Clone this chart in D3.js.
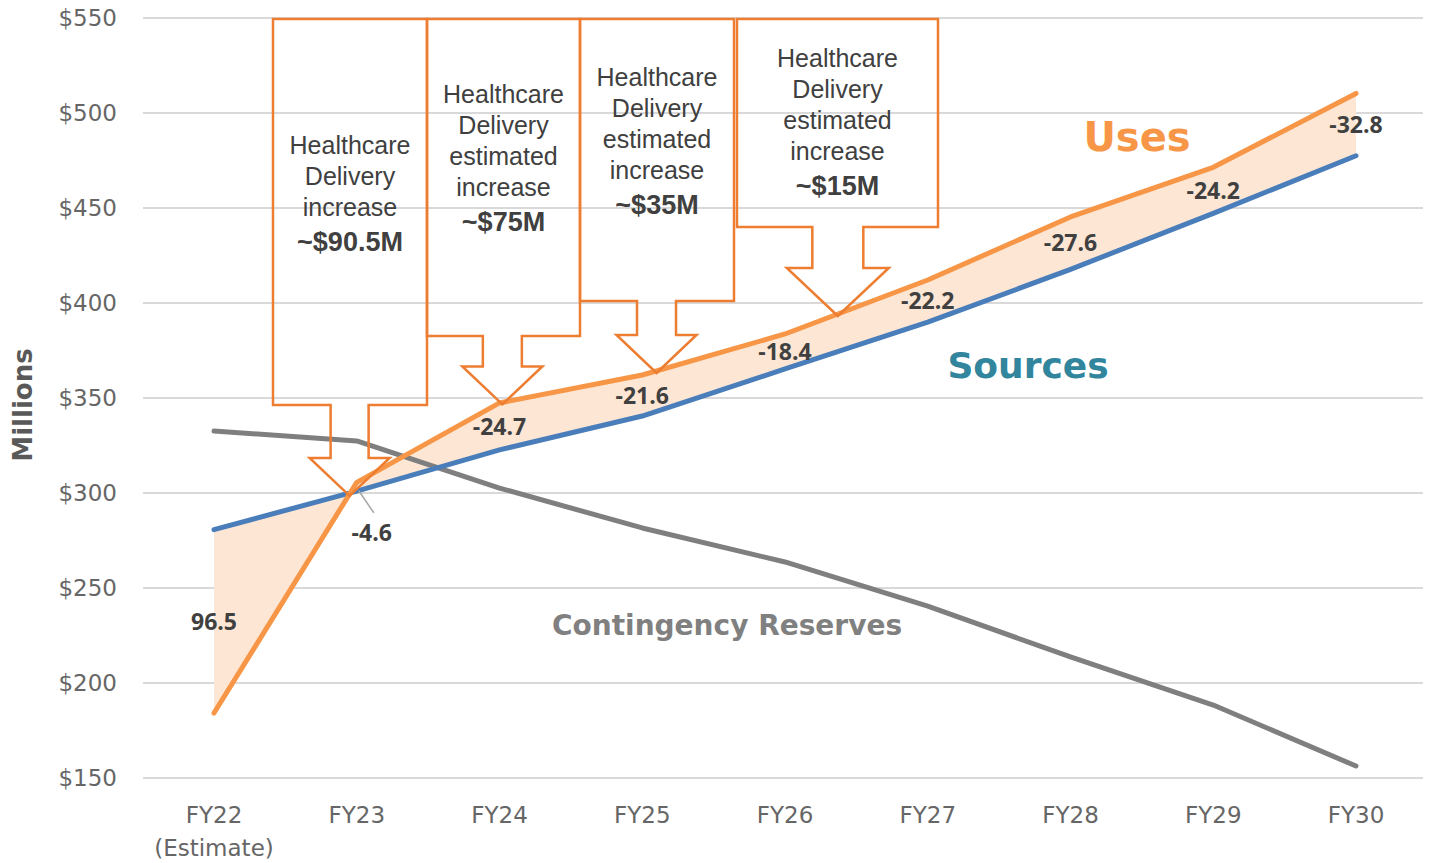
<!DOCTYPE html>
<html>
<head>
<meta charset="utf-8">
<script src="https://cdn.jsdelivr.net/npm/d3@7"></script>
<style>
  body { margin: 0; background: #fff; }
  svg { display: block; }
</style>
</head>
<body>
<div id="chart"></div>
<script>
// chart values
const years = ["FY22", "FY23", "FY24", "FY25", "FY26", "FY27", "FY28", "FY29", "FY30"];
const uses = [184.2, 305.6, 347.4, 362.1, 383.7, 412.1, 445.3, 471.4, 510.3];
const sources = [280.7, 301.0, 322.7, 340.5, 365.3, 389.9, 417.7, 447.2, 477.5];
const reserves = [332.6, 327.4, 302.6, 281.6, 263.7, 240.5, 213.7, 188.4, 156.3];
const gapLabels = ["96.5", "-4.6", "-24.7", "-21.6", "-18.4", "-22.2", "-27.6", "-24.2", "-32.8"];
const yTicks = [150, 200, 250, 300, 350, 400, 450, 500, 550];

// callouts: text and where the arrow points (fractional year index)
const calloutText = [
  ["Healthcare", "Delivery", "increase"],
  ["Healthcare", "Delivery", "estimated", "increase"],
  ["Healthcare", "Delivery", "estimated", "increase"],
  ["Healthcare", "Delivery", "estimated", "increase"]
];
const calloutAmount = ["~$90.5M", "~$75M", "~$35M", "~$15M"];
const calloutTarget = [0.95, 2.02, 3.1, 4.37];

const width = 1429, height = 863;
const orange = "#f79646", blue = "#4a7ebb", grey = "#7f7f7f", boxLine = "#ed7d31";

const svg = d3.select("#chart").append("svg")
  .attr("width", width)
  .attr("height", height);

const x = d3.scalePoint().domain(years).range([214, 1356]);
const y = d3.scaleLinear().domain([150, 550]).range([778, 18]);
const xi = i => 214 + i * (x.step());

// gridlines
svg.append("g")
  .selectAll("line")
  .data(yTicks)
  .enter()
  .append("line")
    .attr("x1", 143).attr("x2", 1423)
    .attr("y1", d => y(d)).attr("y2", d => y(d))
    .attr("stroke", "#d9d9d9")
    .attr("stroke-width", 2);

// y tick labels
svg.append("g")
  .selectAll("text")
  .data(yTicks)
  .enter()
  .append("text")
    .attr("x", 117)
    .attr("y", d => y(d))
    .attr("dy", "0.36em")
    .attr("text-anchor", "end")
    .style("font-family", "DejaVu Sans")
    .style("font-size", "23px")
    .style("fill", "#666")
    .text(d => "$" + d);

// x tick labels
svg.append("g")
  .selectAll("text")
  .data(years)
  .enter()
  .append("text")
    .attr("x", d => x(d))
    .attr("y", 823)
    .attr("text-anchor", "middle")
    .style("font-family", "DejaVu Sans")
    .style("font-size", "23px")
    .style("fill", "#666")
    .text(d => d);
svg.append("text")
  .attr("x", x("FY22"))
  .attr("y", 856)
  .attr("text-anchor", "middle")
  .style("font-family", "DejaVu Sans")
  .style("font-size", "23px")
  .style("fill", "#666")
  .text("(Estimate)");

// axis title
svg.append("text")
  .attr("transform", "translate(32,405) rotate(-90)")
  .attr("text-anchor", "middle")
  .style("font-family", "DejaVu Sans")
  .style("font-weight", "bold")
  .style("font-size", "26px")
  .style("fill", "#595959")
  .text("Millions");

let rows = years.map((d, i) => ({year: d, uses: uses[i], sources: sources[i], reserves: reserves[i], label: gapLabels[i]}));
let curve = d3.curveLinear;

// gap between uses and sources
svg.append("path")
  .datum(rows)
  .attr("d", d3.area()
    .x(d => x(d.year))
    .y0(d => y(d.sources))
    .y1(d => y(d.uses))
    .curve(curve))
  .attr("fill", "#fde6d4");

let lines = [["reserves", grey], ["sources", blue], ["uses", orange]];
lines.forEach(function(l) {
  svg.append("path")
    .datum(rows)
    .attr("d", d3.line().x(d => x(d.year)).y(d => y(d[l[0]])).curve(curve))
    .attr("fill", "none")
    .attr("stroke", l[1])
    .attr("stroke-width", 5)
    .attr("stroke-linecap", "round")
    .attr("stroke-linejoin", "round");
});

// gap labels
rows.forEach(function(d) {
  let cx = x(d.year);
  let cy = (y(d.uses) + y(d.sources)) / 2;
  if (Math.abs(d.uses - d.sources) < 10) {
    // small gap: label pushed below with a leader line
    svg.append("line")
      .attr("x1", cx + 2).attr("y1", cy + 4)
      .attr("x2", cx + 17).attr("y2", cy + 26)
      .attr("stroke", "#a6a6a6")
      .attr("stroke-width", 1.5);
    cx += 15;
    cy += 46;
  }
  svg.append("text")
    .attr("x", cx)
    .attr("y", cy)
    .attr("dy", "0.36em")
    .attr("text-anchor", "middle")
    .style("font-family", "Open Sans")
    .style("font-weight", "bold")
    .style("font-size", "23px")
    .style("fill", "#404040")
    .text(d.label);
});

// series names
let names = [
  ["Uses", 1137, 137, 40, orange],
  ["Sources", 1028, 365, 36, "#31859c"],
  ["Contingency Reserves", 727, 625, 28, "#808080"]
];
names.forEach(function(n) {
  svg.append("text")
    .attr("x", n[1]).attr("y", n[2])
    .attr("dy", "0.36em")
    .attr("text-anchor", "middle")
    .style("font-family", "DejaVu Sans")
    .style("font-weight", "bold")
    .style("font-size", n[3] + "px")
    .style("fill", n[4])
    .text(n[0]);
});

// callout boxes with down arrows (box edges and arrow sizes are layout)
let boxes = [
  {left: 273, right: 427, bottom: 405, shaft: 19, head: 40, shaftEnd: 38, textTop: 145},
  {left: 427, right: 580, bottom: 336, shaft: 19.5, head: 40, shaftEnd: 38, textTop: 94},
  {left: 580, right: 734, bottom: 301, shaft: 19.5, head: 40, shaftEnd: 38, textTop: 77},
  {left: 737, right: 938, bottom: 227, shaft: 25.5, head: 51, shaftEnd: 48, textTop: 58}
];
let useLine = d3.scaleLinear().domain(d3.range(years.length)).range(uses);

boxes.forEach(function(b, i) {
  let tx = xi(calloutTarget[i]);
  let ty = y(useLine(calloutTarget[i])) + 2;
  let top = 19;
  let sb = ty - b.shaftEnd;
  let pts = [
    [b.left, top], [b.right, top], [b.right, b.bottom],
    [tx + b.shaft, b.bottom], [tx + b.shaft, sb], [tx + b.head, sb],
    [tx, ty],
    [tx - b.head, sb], [tx - b.shaft, sb], [tx - b.shaft, b.bottom],
    [b.left, b.bottom]
  ];
  svg.append("path")
    .attr("d", "M" + pts.join("L") + "Z")
    .attr("fill", "none")
    .attr("stroke", boxLine)
    .attr("stroke-width", 2.5);

  let t = svg.append("text")
    .attr("text-anchor", "middle")
    .style("font-family", "Liberation Sans")
    .style("fill", "#404040");
  calloutText[i].forEach(function(s, j) {
    t.append("tspan")
      .attr("x", (b.left + b.right) / 2)
      .attr("y", b.textTop + j * 31 + 9)
      .style("font-size", "25px")
      .text(s);
  });
  t.append("tspan")
    .attr("x", (b.left + b.right) / 2)
    .attr("y", b.textTop + calloutText[i].length * 31 + 13)
    .style("font-size", "27px")
    .style("font-weight", "bold")
    .text(calloutAmount[i]);
});
</script>
</body>
</html>
